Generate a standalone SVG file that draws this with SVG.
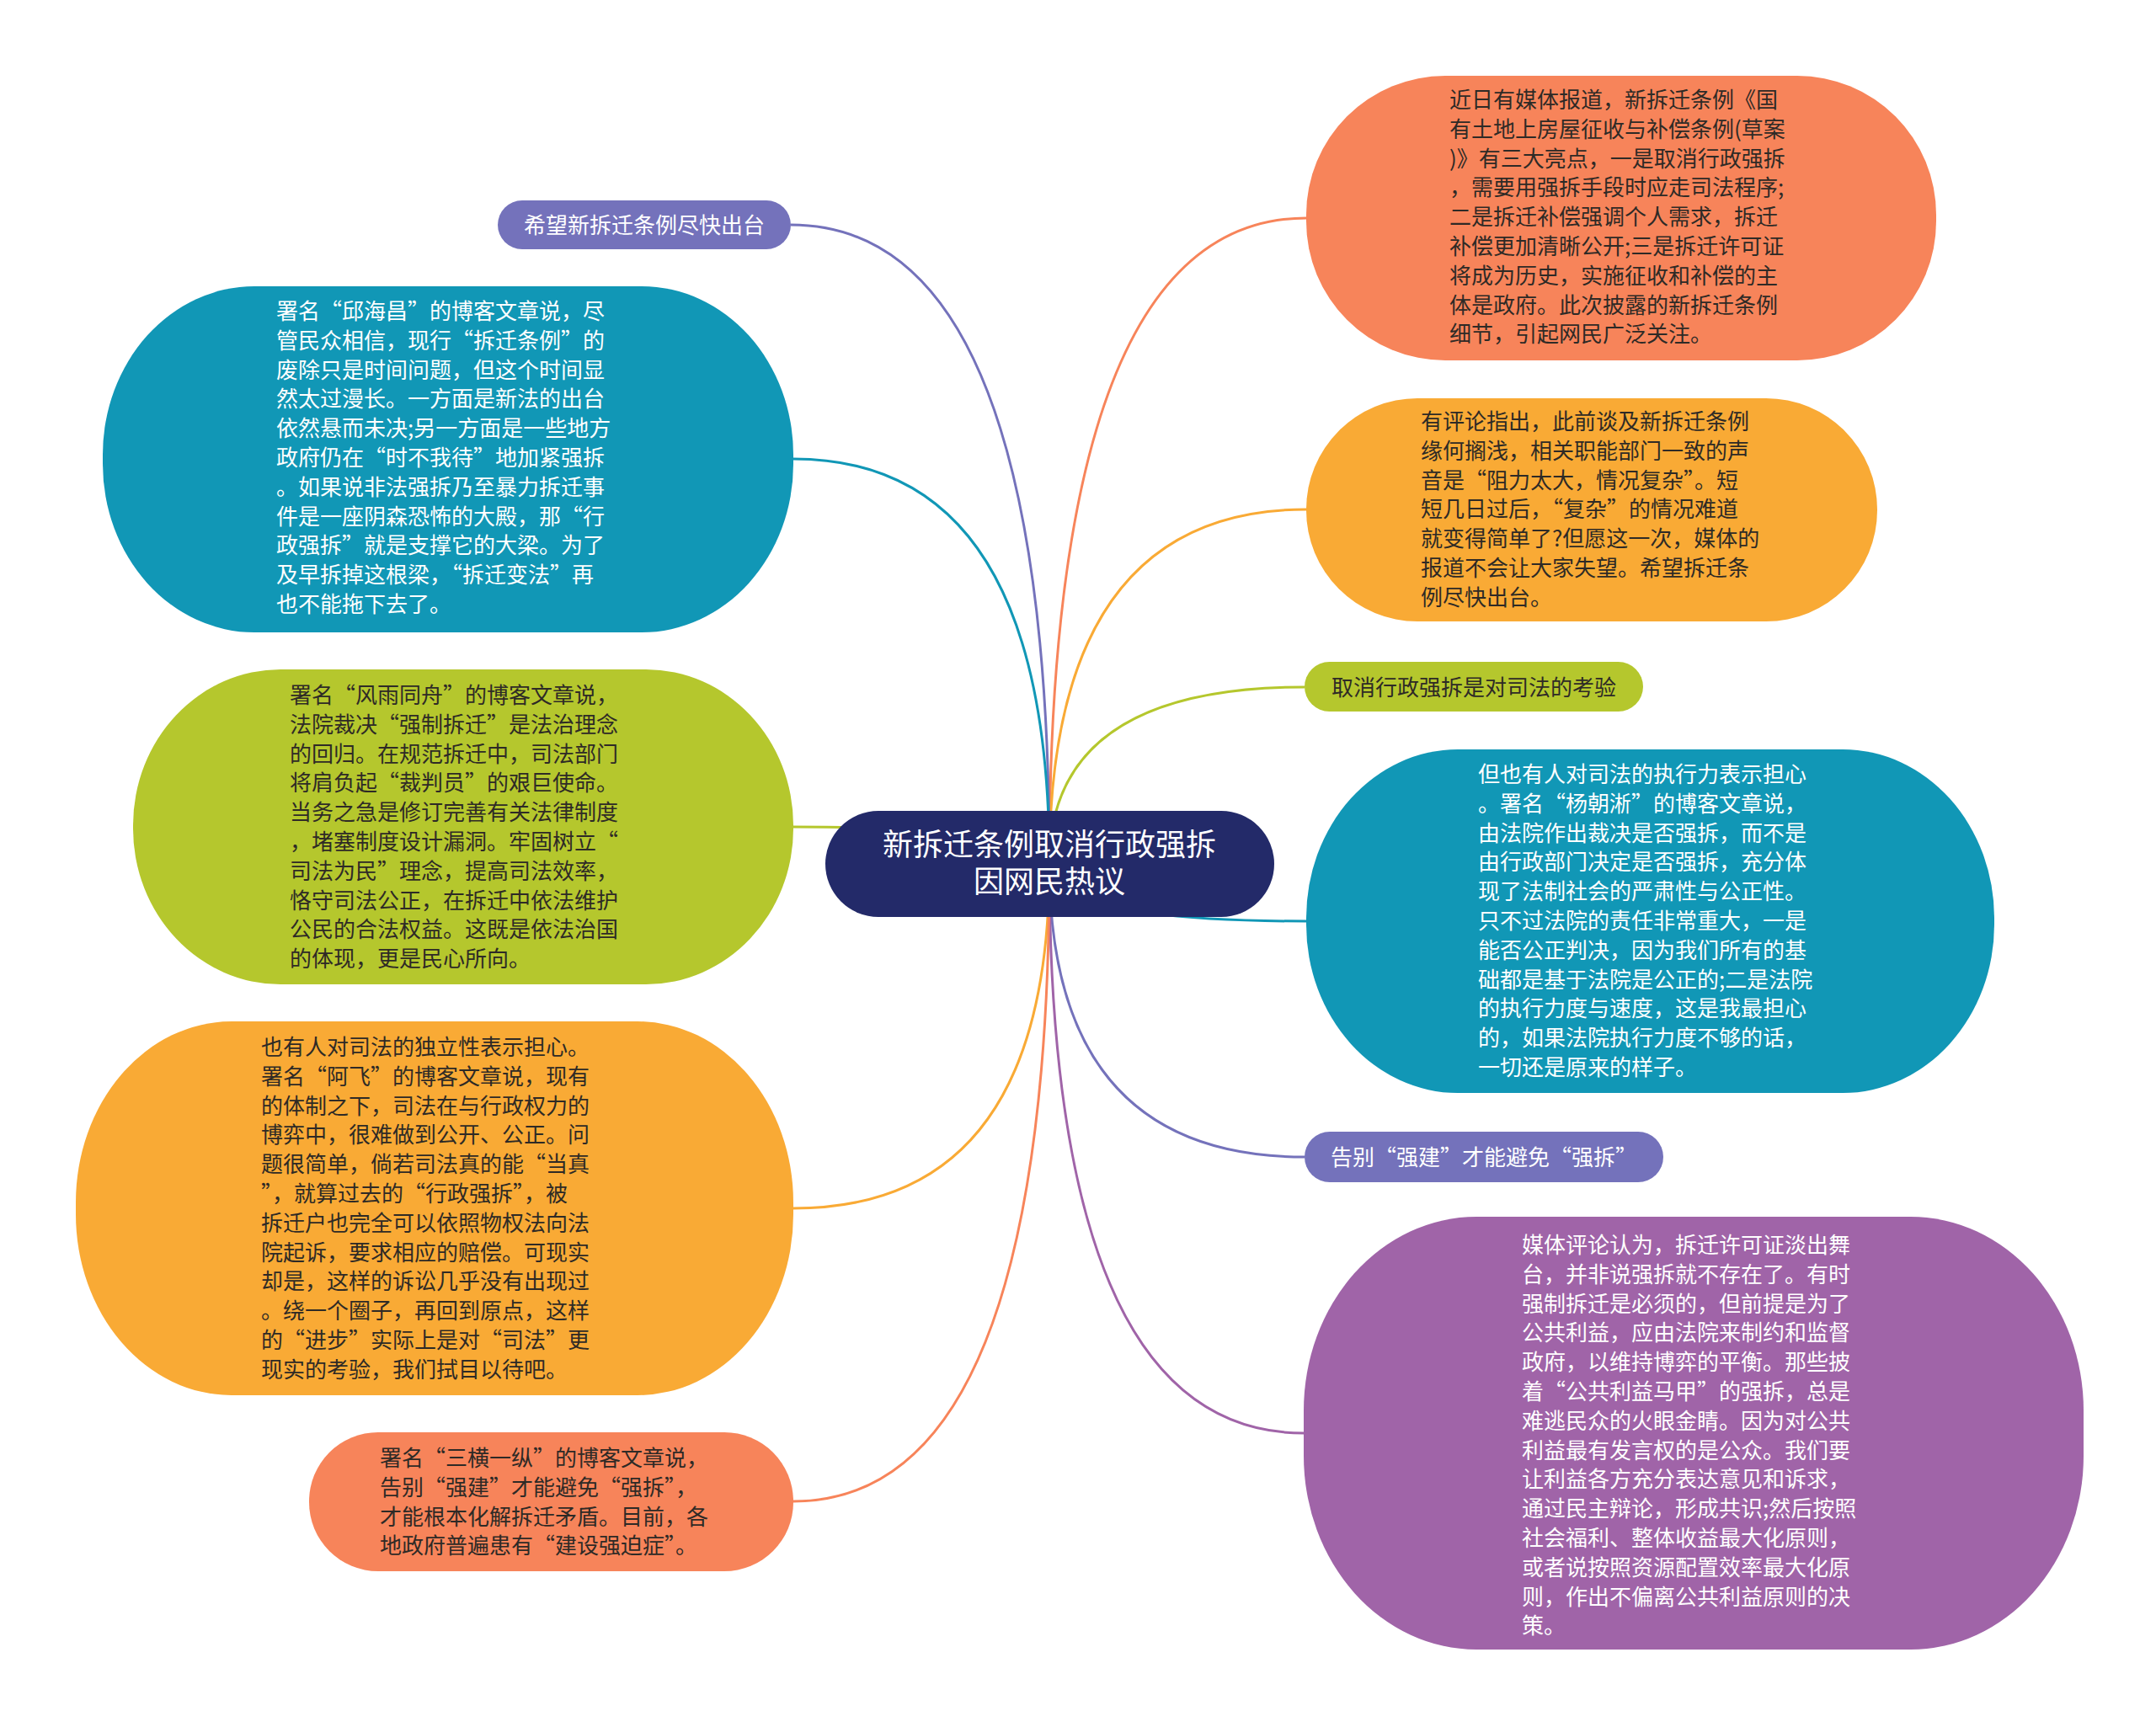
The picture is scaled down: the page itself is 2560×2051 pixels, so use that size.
<svg xmlns="http://www.w3.org/2000/svg" width="2560" height="2051" viewBox="0 0 2560 2051">
<style>
.t{font-family:"Noto Sans CJK SC","Liberation Sans",sans-serif;font-size:26px}
.dk{fill:#2e2a26}
.wt{fill:#ffffff}
.c{fill:none;stroke-width:3}
</style>
<rect x="0" y="0" width="2560" height="2051" fill="#ffffff"/>
<g id="connectors">
<path class="c" stroke="#F7845A" d="M1246,1026 Q1246,259 1551,259"/>
<path class="c" stroke="#F9AA35" d="M1246,1026 Q1246,605 1551,605"/>
<path class="c" stroke="#B5C72D" d="M1246,1026 Q1246,816 1549,816"/>
<path class="c" stroke="#1197B6" d="M1246,1026 Q1246,1094 1551,1094"/>
<path class="c" stroke="#7472BB" d="M1246,1026 Q1246,1374 1549,1374"/>
<path class="c" stroke="#A064A8" d="M1246,1026 Q1246,1702 1548,1702"/>
<path class="c" stroke="#7472BB" d="M1246,1026 Q1246,267 939,267"/>
<path class="c" stroke="#1197B6" d="M1246,1026 Q1246,545 942,545"/>
<path class="c" stroke="#B5C72D" d="M1246,1026 Q1246,982 942,982"/>
<path class="c" stroke="#F9AA35" d="M1246,1026 Q1246,1435 942,1435"/>
<path class="c" stroke="#F7845A" d="M1246,1026 Q1246,1783 942,1783"/>
</g>
<g id="root">
<rect x="980" y="963" width="533" height="126" rx="63" fill="#232A69"/>
<text class="t wt" font-size="36" style="font-size:36px" text-anchor="middle"><tspan x="1246" y="1016">新拆迁条例取消行政强拆</tspan><tspan x="1246" y="1060">因网民热议</tspan></text>
</g>
<g id="r1">
<rect x="1551" y="90" width="748" height="338" rx="165" ry="165" fill="#F7845A"/>
<text class="t dk"><tspan x="1721" y="128">近日有媒体报道，新拆迁条例《国</tspan><tspan x="1721" dy="34.8">有土地上房屋征收与补偿条例(草案</tspan><tspan x="1721" dy="34.8">)》有三大亮点，一是取消行政强拆</tspan><tspan x="1721" dy="34.8">，需要用强拆手段时应走司法程序;</tspan><tspan x="1721" dy="34.8">二是拆迁补偿强调个人需求，拆迁</tspan><tspan x="1721" dy="34.8">补偿更加清晰公开;三是拆迁许可证</tspan><tspan x="1721" dy="34.8">将成为历史，实施征收和补偿的主</tspan><tspan x="1721" dy="34.8">体是政府。此次披露的新拆迁条例</tspan><tspan x="1721" dy="34.8">细节，引起网民广泛关注。</tspan></text>
</g>
<g id="r2">
<rect x="1551" y="473" width="678" height="265" rx="132" ry="132" fill="#F9AA35"/>
<text class="t dk"><tspan x="1687" y="510">有评论指出，此前谈及新拆迁条例</tspan><tspan x="1687" dy="34.8">缘何搁浅，相关职能部门一致的声</tspan><tspan x="1687" dy="34.8">音是“阻力太大，情况复杂”。短</tspan><tspan x="1687" dy="34.8">短几日过后，“复杂”的情况难道</tspan><tspan x="1687" dy="34.8">就变得简单了?但愿这一次，媒体的</tspan><tspan x="1687" dy="34.8">报道不会让大家失望。希望拆迁条</tspan><tspan x="1687" dy="34.8">例尽快出台。</tspan></text>
</g>
<g id="r3">
<rect x="1549" y="786" width="402" height="59" rx="29.5" fill="#B5C72D"/>
<text class="t dk" x="1750" y="826" text-anchor="middle">取消行政强拆是对司法的考验</text>
</g>
<g id="r4">
<rect x="1551" y="890" width="817" height="408" rx="180" ry="200" fill="#1197B6"/>
<text class="t wt"><tspan x="1755" y="929">但也有人对司法的执行力表示担心</tspan><tspan x="1755" dy="34.8">。署名“杨朝淅”的博客文章说，</tspan><tspan x="1755" dy="34.8">由法院作出裁决是否强拆，而不是</tspan><tspan x="1755" dy="34.8">由行政部门决定是否强拆，充分体</tspan><tspan x="1755" dy="34.8">现了法制社会的严肃性与公正性。</tspan><tspan x="1755" dy="34.8">只不过法院的责任非常重大，一是</tspan><tspan x="1755" dy="34.8">能否公正判决，因为我们所有的基</tspan><tspan x="1755" dy="34.8">础都是基于法院是公正的;二是法院</tspan><tspan x="1755" dy="34.8">的执行力度与速度，这是我最担心</tspan><tspan x="1755" dy="34.8">的，如果法院执行力度不够的话，</tspan><tspan x="1755" dy="34.8">一切还是原来的样子。</tspan></text>
</g>
<g id="r5">
<rect x="1549" y="1344" width="426" height="60" rx="30" fill="#7472BB"/>
<text class="t wt" x="1762" y="1384" text-anchor="middle">告别“强建”才能避免“强拆”</text>
</g>
<g id="r6">
<rect x="1548" y="1445" width="926" height="514" rx="205" ry="230" fill="#A064A8"/>
<text class="t wt"><tspan x="1807" y="1488">媒体评论认为，拆迁许可证淡出舞</tspan><tspan x="1807" dy="34.8">台，并非说强拆就不存在了。有时</tspan><tspan x="1807" dy="34.8">强制拆迁是必须的，但前提是为了</tspan><tspan x="1807" dy="34.8">公共利益，应由法院来制约和监督</tspan><tspan x="1807" dy="34.8">政府，以维持博弈的平衡。那些披</tspan><tspan x="1807" dy="34.8">着“公共利益马甲”的强拆，总是</tspan><tspan x="1807" dy="34.8">难逃民众的火眼金睛。因为对公共</tspan><tspan x="1807" dy="34.8">利益最有发言权的是公众。我们要</tspan><tspan x="1807" dy="34.8">让利益各方充分表达意见和诉求，</tspan><tspan x="1807" dy="34.8">通过民主辩论，形成共识;然后按照</tspan><tspan x="1807" dy="34.8">社会福利、整体收益最大化原则，</tspan><tspan x="1807" dy="34.8">或者说按照资源配置效率最大化原</tspan><tspan x="1807" dy="34.8">则，作出不偏离公共利益原则的决</tspan><tspan x="1807" dy="34.8">策。</tspan></text>
</g>
<g id="l1">
<rect x="591" y="238" width="348" height="58" rx="29" fill="#7472BB"/>
<text class="t wt" x="765" y="277" text-anchor="middle">希望新拆迁条例尽快出台</text>
</g>
<g id="l2">
<rect x="122" y="340" width="820" height="411" rx="180" ry="200" fill="#1197B6"/>
<text class="t wt"><tspan x="328" y="379">署名“邱海昌”的博客文章说，尽</tspan><tspan x="328" dy="34.8">管民众相信，现行“拆迁条例”的</tspan><tspan x="328" dy="34.8">废除只是时间问题，但这个时间显</tspan><tspan x="328" dy="34.8">然太过漫长。一方面是新法的出台</tspan><tspan x="328" dy="34.8">依然悬而未决;另一方面是一些地方</tspan><tspan x="328" dy="34.8">政府仍在“时不我待”地加紧强拆</tspan><tspan x="328" dy="34.8">。如果说非法强拆乃至暴力拆迁事</tspan><tspan x="328" dy="34.8">件是一座阴森恐怖的大殿，那“行</tspan><tspan x="328" dy="34.8">政强拆”就是支撑它的大梁。为了</tspan><tspan x="328" dy="34.8">及早拆掉这根梁，“拆迁变法”再</tspan><tspan x="328" dy="34.8">也不能拖下去了。</tspan></text>
</g>
<g id="l3">
<rect x="158" y="795" width="784" height="374" rx="175" ry="185" fill="#B5C72D"/>
<text class="t dk"><tspan x="344" y="835">署名“风雨同舟”的博客文章说，</tspan><tspan x="344" dy="34.8">法院裁决“强制拆迁”是法治理念</tspan><tspan x="344" dy="34.8">的回归。在规范拆迁中，司法部门</tspan><tspan x="344" dy="34.8">将肩负起“裁判员”的艰巨使命。</tspan><tspan x="344" dy="34.8">当务之急是修订完善有关法律制度</tspan><tspan x="344" dy="34.8">，堵塞制度设计漏洞。牢固树立“</tspan><tspan x="344" dy="34.8">司法为民”理念，提高司法效率，</tspan><tspan x="344" dy="34.8">恪守司法公正，在拆迁中依法维护</tspan><tspan x="344" dy="34.8">公民的合法权益。这既是依法治国</tspan><tspan x="344" dy="34.8">的体现，更是民心所向。</tspan></text>
</g>
<g id="l4">
<rect x="90" y="1213" width="852" height="444" rx="185" ry="215" fill="#F9AA35"/>
<text class="t dk"><tspan x="310" y="1253">也有人对司法的独立性表示担心。</tspan><tspan x="310" dy="34.8">署名“阿飞”的博客文章说，现有</tspan><tspan x="310" dy="34.8">的体制之下，司法在与行政权力的</tspan><tspan x="310" dy="34.8">博弈中，很难做到公开、公正。问</tspan><tspan x="310" dy="34.8">题很简单，倘若司法真的能“当真</tspan><tspan x="310" dy="34.8">”，就算过去的“行政强拆”，被</tspan><tspan x="310" dy="34.8">拆迁户也完全可以依照物权法向法</tspan><tspan x="310" dy="34.8">院起诉，要求相应的赔偿。可现实</tspan><tspan x="310" dy="34.8">却是，这样的诉讼几乎没有出现过</tspan><tspan x="310" dy="34.8">。绕一个圈子，再回到原点，这样</tspan><tspan x="310" dy="34.8">的“进步”实际上是对“司法”更</tspan><tspan x="310" dy="34.8">现实的考验，我们拭目以待吧。</tspan></text>
</g>
<g id="l5">
<rect x="367" y="1701" width="575" height="165" rx="82" fill="#F7845A"/>
<text class="t dk"><tspan x="451" y="1741">署名“三横一纵”的博客文章说，</tspan><tspan x="451" dy="34.8">告别“强建”才能避免“强拆”，</tspan><tspan x="451" dy="34.8">才能根本化解拆迁矛盾。目前，各</tspan><tspan x="451" dy="34.8">地政府普遍患有“建设强迫症”。</tspan></text>
</g>
</svg>
